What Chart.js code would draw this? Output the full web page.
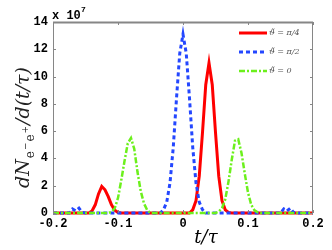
<!DOCTYPE html>
<html>
<head>
<meta charset="utf-8">
<script src="https://cdn.jsdelivr.net/npm/chart.js@4.4.1/dist/chart.umd.min.js"></script>
<style>
  html, body { margin: 0; padding: 0; background: #fff; }
  #wrap { width: 332px; height: 250px; }
</style>
</head>
<body>
<div id="wrap"><canvas id="chart" width="332" height="250"></canvas></div>
<script>
  // values are in units of 1e7
  const redT = [-0.2, -0.145, -0.14, -0.135, -0.13, -0.125, -0.12, -0.115, -0.11, -0.105, -0.1, -0.095,
    0.01, 0.015, 0.02, 0.025, 0.03, 0.035, 0.04, 0.045, 0.05, 0.055, 0.06, 0.065, 0.07, 0.075, 0.2];
  const redY = [0, 0, 0.15, 0.6, 1.4, 1.95, 1.7, 1.2, 0.6, 0.2, 0.03, 0,
    0, 0.23, 0.9, 2.7, 5.9, 9.4, 11.0, 9.4, 5.9, 2.7, 0.9, 0.23, 0.04, 0, 0];

  const blueT = [-0.2, -0.175, -0.17, -0.165, -0.16, -0.155, -0.15,
    -0.035, -0.03, -0.025, -0.02, -0.015, -0.01, -0.005, 0, 0.005, 0.01, 0.015, 0.02, 0.025, 0.03, 0.035,
    0.15, 0.155, 0.16, 0.165, 0.17, 0.175, 0.2];
  const blueY = [0, 0, 0.3, 0.15, 0.35, 0.05, 0,
    0, 0.24, 0.8, 2.2, 4.8, 8.4, 11.7, 13.1, 11.7, 8.4, 4.8, 2.2, 0.8, 0.24, 0,
    0, 0.3, 0.15, 0.35, 0.05, 0, 0];

  const greenT = [-0.2, -0.115, -0.11, -0.105, -0.1, -0.095, -0.09, -0.085, -0.08, -0.075, -0.07, -0.065, -0.06, -0.055, -0.05,
    0.05, 0.055, 0.06, 0.065, 0.07, 0.075, 0.08, 0.085, 0.09, 0.095, 0.1, 0.105, 0.11, 0.115, 0.12, 0.2];
  const greenY = [0, 0, 0.08, 0.35, 1.1, 2.4, 3.8, 5.1, 5.5, 4.7, 3.0, 1.6, 0.7, 0.2, 0,
    0, 0.1, 0.35, 1.0, 2.3, 3.9, 5.3, 5.4, 4.4, 2.9, 1.5, 0.6, 0.2, 0.05, 0, 0];

  const xTicks = [-0.2, -0.1, 0, 0.1, 0.2];
  const yTicks = [0, 2, 4, 6, 8, 10, 12, 14];
  const seriesLabels = ['ϑ̃ = π/4', 'ϑ̃ = π/2', 'ϑ̃ = 0'];

  const AXIS = '#868686';
  const TICKFONT = { family: 'Liberation Mono', size: 12, weight: 'bold' };

  function pts(t, y) {
    return t.map((v, i) => ({ x: v, y: y[i] }));
  }

  const frame = {
    id: 'frame',
    afterDraw(chart) {
      const { ctx, chartArea: a, scales } = chart;
      ctx.save();
      ctx.strokeStyle = AXIS;
      ctx.lineWidth = 1;
      ctx.beginPath();
      ctx.moveTo(a.left + 0.5, a.bottom + 1);
      ctx.lineTo(a.left + 0.5, a.top);
      ctx.moveTo(a.right - 0.5, a.bottom + 1);
      ctx.lineTo(a.right - 0.5, a.top);
      ctx.stroke();
      ctx.lineWidth = 2;
      ctx.beginPath();
      ctx.moveTo(a.left, a.top + 0.5);
      ctx.lineTo(a.right, a.top + 0.5);
      ctx.stroke();
      ctx.lineWidth = 1;
      ctx.beginPath();
      xTicks.forEach(v => {
        const px = Math.round(scales.x.getPixelForValue(v)) + 0.5;
        ctx.moveTo(px, a.bottom); ctx.lineTo(px, a.bottom - 3);
        ctx.moveTo(px, a.top); ctx.lineTo(px, a.top + 3);
      });
      yTicks.forEach(v => {
        const py = Math.round(scales.y.getPixelForValue(v)) + 0.5;
        ctx.moveTo(a.left, py); ctx.lineTo(a.left + 3, py);
        ctx.moveTo(a.right, py); ctx.lineTo(a.right - 3, py);
      });
      ctx.stroke();

      // exponent
      ctx.fillStyle = '#000';
      ctx.font = 'bold 12px "Liberation Mono"';
      ctx.textBaseline = 'alphabetic';
      ctx.fillText('x 10', a.left - 1, a.top - 3);
      ctx.font = 'bold 8px "Liberation Mono"';
      ctx.fillText('7', a.left + 28, a.top - 10);

      // legend
      const ds = chart.data.datasets;
      const rows = [33, 52, 71];
      ds.forEach((d, i) => {
        const y = rows[i];
        ctx.strokeStyle = d.borderColor;
        ctx.lineWidth = d.borderWidth;
        ctx.setLineDash(d.borderDash || []);
        ctx.beginPath();
        ctx.moveTo(239, y); ctx.lineTo(267, y);
        ctx.stroke();
        ctx.setLineDash([]);
        ctx.fillStyle = '#555';
        ctx.font = 'italic 8px "DejaVu Serif"';
        ctx.textBaseline = 'middle';
        ctx.fillText(seriesLabels[i], 269, y);
      });

      // x title
      ctx.fillStyle = '#000';
      ctx.font = 'italic 18px "DejaVu Serif"';
      ctx.textAlign = 'center';
      ctx.textBaseline = 'middle';
      ctx.fillText('t/τ', 206, 238);

      // y title with subscript
      ctx.fillStyle = '#222';
      ctx.translate(22, 127);
      ctx.rotate(-Math.PI / 2);
      const parts = [
        { s: 'dN', f: 'italic 19px "DejaVu Serif"', dy: 0 },
        { s: 'e', f: '12px "DejaVu Serif"', dy: 5 },
        { s: '−', f: '9px "DejaVu Serif"', dy: -1 },
        { s: 'e', f: '12px "DejaVu Serif"', dy: 5 },
        { s: '+', f: '9px "DejaVu Serif"', dy: -1 },
        { s: '/d(t/τ)', f: 'italic 19px "DejaVu Serif"', dy: 0 }
      ];
      let total = 0;
      parts.forEach(p => { ctx.font = p.f; p.w = ctx.measureText(p.s).width + 1; total += p.w; });
      let x = -total / 2;
      ctx.textAlign = 'left';
      ctx.textBaseline = 'alphabetic';
      parts.forEach(p => {
        ctx.font = p.f;
        ctx.fillText(p.s, x, 7 + p.dy);
        x += p.w;
      });
      ctx.restore();
    }
  };

  new Chart(document.getElementById('chart'), {
    type: 'line',
    data: {
      datasets: [
        { label: seriesLabels[0], data: pts(redT, redY), borderColor: '#ff0000', borderWidth: 3, order: 3, clip: 6 },
        { label: seriesLabels[1], data: pts(blueT, blueY), borderColor: '#2447ff', borderWidth: 3, borderDash: [4, 3], order: 2, clip: 6 },
        { label: seriesLabels[2], data: pts(greenT, greenY), borderColor: '#6cf01c', borderWidth: 2.5, borderDash: [6, 2, 2, 2], order: 1, clip: 6 }
      ]
    },
    options: {
      responsive: false,
      animation: false,
      events: [],
      layout: { padding: { top: 22, right: 19, left: 0, bottom: 0 } },
      elements: { point: { radius: 0 }, line: { tension: 0, fill: false } },
      plugins: { legend: { display: false }, tooltip: { enabled: false } },
      scales: {
        x: {
          type: 'linear', min: -0.2, max: 0.2,
          afterBuildTicks: s => { s.ticks = xTicks.map(v => ({ value: v })); },
          afterFit: s => { s.height = 37; },
          grid: { display: false, drawTicks: false },
          border: { display: false },
          ticks: {
            color: '#000', font: TICKFONT, padding: 4, maxRotation: 0,
            callback: v => { const r = Math.round(v * 10) / 10; return r === 0 ? '0' : r.toFixed(1); }
          }
        },
        y: {
          type: 'linear', min: 0, max: 14,
          afterBuildTicks: s => { s.ticks = yTicks.map(v => ({ value: v })); },
          afterFit: s => { s.width = 53; },
          grid: { display: false, drawTicks: false },
          border: { display: false },
          ticks: { color: '#000', font: TICKFONT, padding: 5 }
        }
      }
    },
    plugins: [frame]
  });
</script>
</body>
</html>
